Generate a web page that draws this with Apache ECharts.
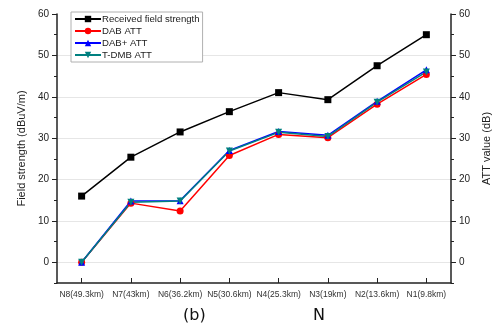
<!DOCTYPE html>
<html>
<head>
<meta charset="utf-8">
<script src="https://cdn.jsdelivr.net/npm/echarts@6/dist/echarts.min.js"></script>
<style>
  html, body { margin: 0; padding: 0; background: #fff; }
  #chart-container { width: 500px; height: 331px; }
</style>
</head>
<body>
<div id="chart-container"></div>
<script>
// categories along the bottom (far to near)
var nodes = ['N8(49.3km)', 'N7(43km)', 'N6(36.2km)', 'N5(30.6km)', 'N4(25.3km)', 'N3(19km)', 'N2(13.6km)', 'N1(9.8km)'];

// values
var fieldStrength = [16, 25.4, 31.5, 36.4, 41, 39.3, 47.5, 55];
var dabAtt = [0, 14.3, 12.4, 25.8, 30.9, 30.1, 38.2, 45.4];
var dabPlusAtt = [0, 14.8, 14.9, 27, 31.6, 30.7, 38.9, 46.5];
var tdmbAtt = [0, 14.5, 14.8, 26.9, 31.4, 30.4, 38.7, 46];

// major tick labels on both y axes
var yTicks = [0, 10, 20, 30, 40, 50, 60];

var seriesNames = ['Received field strength', 'DAB ATT', 'DAB+ ATT', 'T-DMB ATT'];

var dom = document.getElementById('chart-container');
var myChart = echarts.init(dom, null, { renderer: 'canvas' });

var textFont = 'Liberation Sans, Arial, sans-serif';

// grid line colour per 5-step line (-5 .. 60), only tens below the top edge
var gridColors = [];
for (var v = -5; v <= 60; v += 5) {
  gridColors.push(v % 10 === 0 && v < 60 ? '#e6e6e6' : 'transparent');
}

// axis steps by 5 from -5, labels / grid only on the tens
function yAxisBase(pos) {
  return {
    type: 'value',
    position: pos,
    min: -5,
    max: 60,
    interval: 5,
    axisLine: { show: true, onZero: false, lineStyle: { color: '#222', width: 1.5 } },
    axisTick: { show: true, inside: false, length: 3, lineStyle: { color: '#222' } },
    axisLabel: {
      color: '#222', fontSize: 10, fontFamily: textFont, margin: 8,
      formatter: function (v) { return yTicks.indexOf(v) >= 0 ? String(v) : ''; }
    },
    nameLocation: 'middle',
    nameRotate: 90,
    nameTextStyle: { color: '#222', fontSize: 11, fontFamily: textFont }
  };
}

// overlay axis that only draws the longer major ticks
function majorTickAxis(pos) {
  return {
    type: 'value',
    position: pos,
    min: -5,
    max: 60,
    interval: 5,
    axisLine: { show: false },
    axisTick: { show: true, inside: false, length: 5, customValues: yTicks, lineStyle: { color: '#222' } },
    axisLabel: { show: false },
    splitLine: { show: false }
  };
}

var leftAxis = yAxisBase('left');
leftAxis.name = 'Field strength (dBuV/m)';
leftAxis.nameGap = 30;
leftAxis.splitLine = { show: true, lineStyle: { color: gridColors, width: 1 } };

var rightAxis = yAxisBase('right');
rightAxis.name = 'ATT value (dB)';
rightAxis.nameGap = 26;
rightAxis.splitLine = { show: false };

function lineSeries(name, data, color, symbol, rotate, yIdx) {
  return {
    name: name,
    type: 'line',
    yAxisIndex: yIdx,
    data: data,
    symbol: symbol,
    symbolRotate: rotate,
    symbolSize: 7,
    showAllSymbol: true,
    lineStyle: { color: color, width: 1.5 },
    itemStyle: { color: color },
    z: 3
  };
}

var option = {
  animation: false,
  grid: { left: 57, right: 44, top: 14, bottom: 48 },
  legend: {
    orient: 'vertical',
    left: 71,
    top: 12,
    padding: [2, 3, 2, 3],
    itemGap: 2,
    itemWidth: 26,
    itemHeight: 8,
    backgroundColor: '#fff',
    borderColor: '#b0b0b0',
    borderWidth: 1,
    textStyle: { fontSize: 9.6, fontFamily: textFont, color: '#222', padding: [0, 0, 0, -4] },
    data: seriesNames
  },
  xAxis: {
    type: 'category',
    data: nodes,
    boundaryGap: true,
    axisLine: { onZero: false, lineStyle: { color: '#222', width: 1.5 } },
    axisTick: { show: true, inside: true, alignWithLabel: true, length: 5, lineStyle: { color: '#222' } },
    axisLabel: { interval: 0, fontSize: 8.5, fontFamily: textFont, color: '#333', margin: 7 },
    splitLine: { show: false }
  },
  yAxis: [leftAxis, rightAxis, majorTickAxis('left'), majorTickAxis('right')],
  graphic: [
    { type: 'text', left: 183, top: 308, style: { text: '(b)', fontSize: 16, fontFamily: 'DejaVu Sans, sans-serif', fill: '#111' } },
    { type: 'text', left: 313, top: 308, style: { text: 'N', fontSize: 16, fontFamily: 'DejaVu Sans, sans-serif', fill: '#111' } }
  ],
  series: [
    lineSeries(seriesNames[0], fieldStrength, '#000000', 'rect', 0, 0),
    lineSeries(seriesNames[1], dabAtt, '#ff0000', 'circle', 0, 1),
    lineSeries(seriesNames[2], dabPlusAtt, '#0000ff', 'triangle', 0, 1),
    lineSeries(seriesNames[3], tdmbAtt, '#008080', 'triangle', 180, 1)
  ]
};

myChart.setOption(option);
window.addEventListener('resize', myChart.resize);
</script>
</body>
</html>
